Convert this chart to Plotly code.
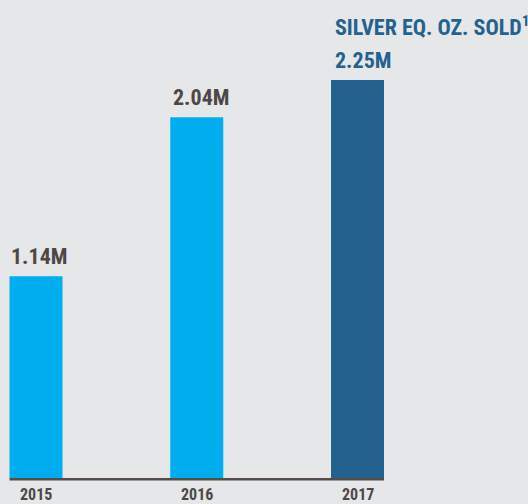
import plotly.graph_objects as go

# Silver-equivalent ounces sold per year (millions)
years = ["2015", "2016", "2017"]
values = [1.14, 2.04, 2.25]
value_labels = ["1.14M", "2.04M", "2.25M"]
bar_colors = ["#00aeef", "#00aeef", "#23618e"]
label_colors = ["#4d4846", "#4d4846", "#23618e"]
headline = "SILVER EQ. OZ. SOLD<sup>1</sup>"

FONT = "Roboto Condensed, Roboto, Liberation Sans Narrow, sans-serif"
BG = "#e6e7e9"
TEXT = "#4d4846"
W, H = 528, 504

# Layout geometry (pixels)
base_px = 478          # baseline of the bars
top_px = 80            # top of the tallest bar
first_center_px = 36
pitch_px = 160.75
bar_w_px = 53

ppu = (base_px - top_px) / max(values)
bar_width = bar_w_px / pitch_px
x_range = [-first_center_px / pitch_px, (W - first_center_px) / pitch_px]
y_range = [-(H - base_px) / ppu, base_px / ppu]

xs = list(range(len(years)))

fig = go.Figure(
    go.Bar(
        x=xs,
        y=values,
        width=bar_width,
        marker=dict(color=bar_colors, line=dict(width=0)),
        hoverinfo="skip",
    )
)

# Baseline rule under the bars
fig.add_shape(
    type="line",
    xref="x", yref="y",
    x0=xs[0] - bar_width / 2, x1=xs[-1] + bar_width / 2,
    ysizemode="pixel", yanchor=0, y0=-1.3, y1=-1.3,
    line=dict(color="#544c49", width=2.6),
    layer="above",
)

annotations = []
for i, (x, v, lab, col) in enumerate(zip(xs, values, value_labels, label_colors)):
    # value above each bar, aligned with the bar's left edge
    annotations.append(dict(
        x=x - bar_width / 2, y=v, xref="x", yref="y",
        text=f"<b>{lab}</b>", showarrow=False, xanchor="left", yanchor="bottom",
        align="left", xshift=1.5 * i - 1, yshift=5,
        font=dict(family=FONT, size=22, color=col),
    ))
    # year under each bar
    annotations.append(dict(
        x=x, y=0, xref="x", yref="paper",
        text=f"<b>{years[i]}</b>", showarrow=False,
        xanchor="center", yanchor="bottom", yshift=-2,
        font=dict(family=FONT, size=16, color=TEXT),
    ))

# headline over the latest year's bar
annotations.append(dict(
    x=xs[-1] - bar_width / 2, y=values[-1], xref="x", yref="y",
    text=f"<b>{headline}</b>", showarrow=False, xanchor="left", yanchor="bottom",
    align="left", xshift=1.5 * xs[-1] - 1, yshift=38,
    font=dict(family=FONT, size=22, color=label_colors[-1]),
))

fig.update_layout(
    width=W, height=H,
    margin=dict(l=0, r=0, t=0, b=0),
    paper_bgcolor=BG, plot_bgcolor=BG,
    showlegend=False,
    xaxis=dict(range=x_range, visible=False, fixedrange=True),
    yaxis=dict(range=y_range, visible=False, fixedrange=True),
    annotations=annotations,
)

fig.write_html("out.html")
